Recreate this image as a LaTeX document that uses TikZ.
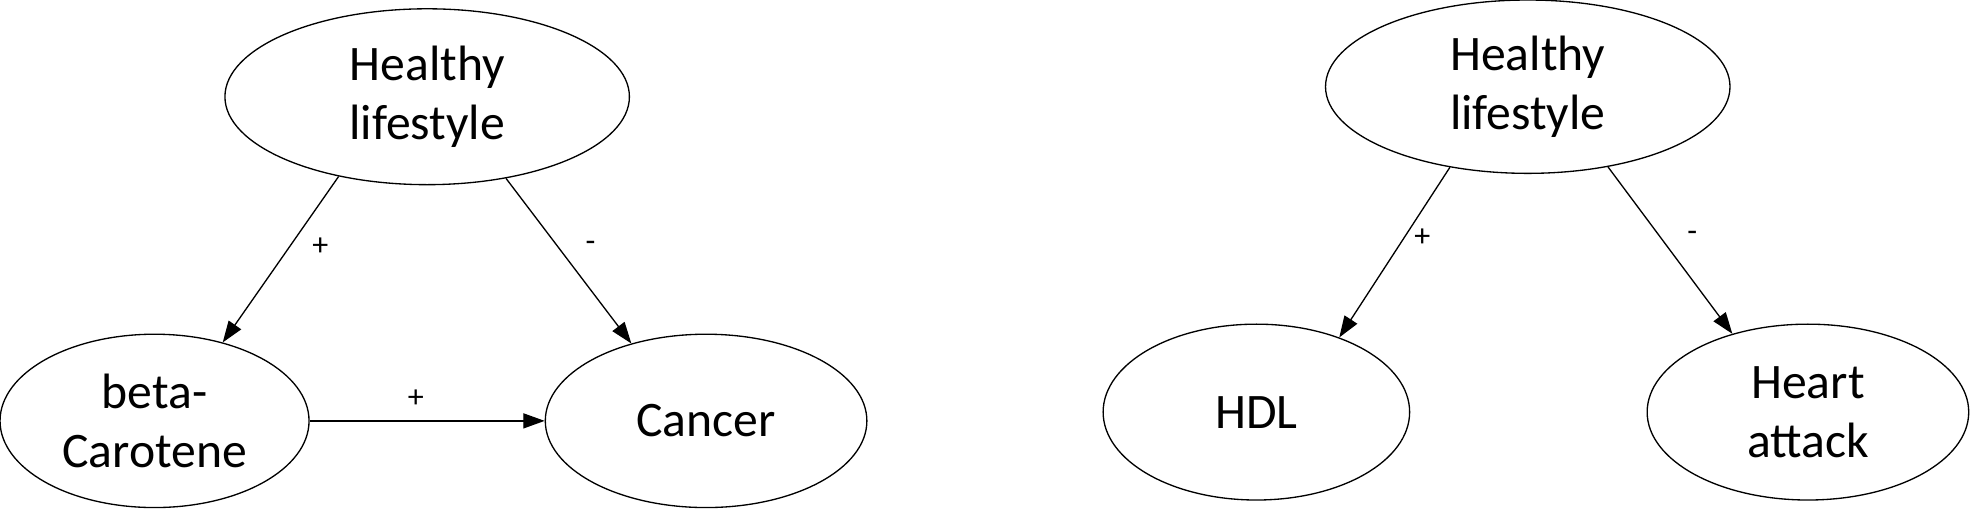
\documentclass[tikz,border=0pt]{standalone}
\usepackage{fontspec}
\setmainfont{Carlito}
\usetikzlibrary{shapes.geometric,arrows.meta}
\begin{document}
\begin{tikzpicture}[x=0.02cm,y=-0.02cm,
  ell/.style={ellipse,draw,line width=0.6pt,inner sep=0pt,align=center,font=\fontsize{22.5}{27}\selectfont},
  arr/.style={line width=0.6pt,-{Triangle[length=0.34cm,width=0.24cm]}},
  sign/.style={font=\fontsize{14.5}{16}\selectfont,inner sep=0pt}]
\useasboundingbox (0,0) rectangle (1568,408);
\node[ell,minimum width=6.44cm,minimum height=2.8cm] (lt) at (340,77) {Healthy\\lifestyle};
\node[ell,minimum width=4.92cm,minimum height=2.76cm] (bc) at (123,335) {beta-\\Carotene};
\node[ell,minimum width=5.12cm,minimum height=2.76cm] (ca) at (562,335) {Cancer};
\node[ell,minimum width=6.44cm,minimum height=2.76cm] (rt) at (1216,69) {Healthy\\lifestyle};
\node[ell,minimum width=4.88cm,minimum height=2.8cm] (hdl) at (1000,328) {HDL};
\node[ell,minimum width=5.12cm,minimum height=2.8cm] (ha) at (1439,328) {Heart\\attack};
\draw[arr] (lt.222) -- (bc.49);
\draw[arr] (lt.314) -- (ca.134);
\draw[arr] (bc.east) -- (ca.west);
\draw[arr] (rt.226) -- (hdl.42);
\draw[arr] (rt.315) -- (ha.134);
\node[sign] (s1) at (255,196) {+};
\node[sign] (s2) at (470,196) {-};
\node[sign] (s3) at (331,317) {+};
\node[sign] (s4) at (1132,189) {+};
\node[sign] (s5) at (1347,188) {-};
\end{tikzpicture}
\end{document}
